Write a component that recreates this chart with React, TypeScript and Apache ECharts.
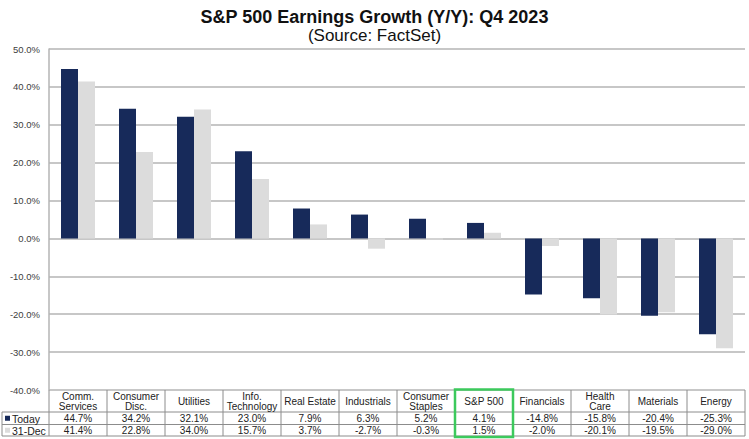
import React, { useEffect, useRef } from "react";
import * as echarts from "echarts";

const categories = [
  "Comm.\nServices",
  "Consumer\nDisc.",
  "Utilities",
  "Info.\nTechnology",
  "Real Estate",
  "Industrials",
  "Consumer\nStaples",
  "S&P 500",
  "Financials",
  "Health\nCare",
  "Materials",
  "Energy",
];
const todayValues = [44.7, 34.2, 32.1, 23.0, 7.9, 6.3, 5.2, 4.1, -14.8, -15.8, -20.4, -25.3];
const decValues = [41.4, 22.8, 34.0, 15.7, 3.7, -2.7, -0.3, 1.5, -2.0, -20.1, -19.5, -29.0];
const seriesNames = ["Today", "31-Dec"];
const highlightCategory = "S&P 500";
const yTicks = { min: -40, max: 50, interval: 10 };

const NAVY = "#172a5a";
const LIGHT = "#dcdcdc";
const GRID = "#b4b4b4";
const BORDER = "#8c8c8c";
const GREEN = "#3cc95c";

const fmt = (v: number) => v.toFixed(1) + "%";

export default function App() {
  const ref = useRef<HTMLDivElement>(null);
  useEffect(() => {
    if (!ref.current) return;
    const chart = echarts.init(ref.current, undefined, { renderer: "svg" });
    const gridLeft = 49;
    const gridRight = 4;
    const gridTop = 49;
    const gridBottom = 49;
    chart.setOption({
      animation: false,
      backgroundColor: "#ffffff",
      title: {
        text: "S&P 500 Earnings Growth (Y/Y): Q4 2023",
        subtext: "(Source: FactSet)",
        left: "center",
        top: 9,
        padding: 0,
        itemGap: 0,
        textStyle: {
          fontFamily: "Liberation Sans, Arial, sans-serif",
          fontSize: 18,
          lineHeight: 16,
          fontWeight: "bold",
          color: "#111111",
        },
        subtextStyle: {
          fontFamily: "Liberation Sans, Arial, sans-serif",
          fontSize: 17,
          lineHeight: 16,
          color: "#111111",
        },
      },
      grid: { left: gridLeft, right: gridRight, top: gridTop, bottom: gridBottom, containLabel: false },
      xAxis: {
        type: "category",
        data: categories,
        axisLabel: { show: false },
        axisTick: { show: false },
        axisLine: { show: false },
      },
      yAxis: {
        type: "value",
        min: yTicks.min,
        max: yTicks.max,
        interval: yTicks.interval,
        axisLine: { show: true, lineStyle: { color: GRID, width: 1.5 } },
        axisTick: { show: false },
        splitLine: { show: true, lineStyle: { color: GRID, width: 1.5 } },
        axisLabel: {
          formatter: (v: number) => fmt(v),
          fontFamily: "Liberation Sans, Arial, sans-serif",
          fontSize: 9.5,
          color: "#404040",
          margin: 9,
        },
      },
      series: [
        {
          name: seriesNames[0],
          type: "bar",
          data: todayValues,
          barWidth: 17,
          barGap: "0%",
          itemStyle: { color: NAVY },
        },
        {
          name: seriesNames[1],
          type: "bar",
          data: decValues,
          barWidth: 17,
          barGap: "0%",
          itemStyle: { color: LIGHT },
        },
      ],
    });

    // Build the data table below the plot from the axis scale
    const x0 = chart.convertToPixel({ xAxisIndex: 0 }, 0) as number;
    const x1 = chart.convertToPixel({ xAxisIndex: 0 }, 1) as number;
    const band = x1 - x0;
    const plotBottom = chart.convertToPixel({ yAxisIndex: 0 }, yTicks.min) as number;
    const headerBottom = plotBottom + 22;
    const row1Bottom = headerBottom + 12.5;
    const row2Bottom = row1Bottom + 11.5;
    const tableLeft = 2;
    const tableRight = x0 - band / 2 + band * categories.length;
    const font = "Liberation Sans, Arial, sans-serif";
    const elements: any[] = [];
    const hline = (xa: number, xb: number, y: number) =>
      elements.push({
        type: "line",
        silent: true,
        shape: { x1: xa, y1: y, x2: xb, y2: y },
        style: { stroke: BORDER, lineWidth: 1 },
      });
    const vline = (x: number, ya: number, yb: number) =>
      elements.push({
        type: "line",
        silent: true,
        shape: { x1: x, y1: ya, x2: x, y2: yb },
        style: { stroke: BORDER, lineWidth: 1 },
      });
    const tableStart = x0 - band / 2;
    hline(tableStart, tableRight, headerBottom);
    hline(tableLeft, tableRight, row1Bottom);
    hline(tableLeft, tableRight, row2Bottom);
    hline(tableLeft, tableStart, headerBottom);
    vline(tableLeft, headerBottom, row2Bottom);
    for (let i = 0; i <= categories.length; i++) {
      vline(tableStart + i * band, plotBottom, row2Bottom);
    }
    categories.forEach((c, i) => {
      const cx = chart.convertToPixel({ xAxisIndex: 0 }, i) as number;
      elements.push({
        type: "text",
        silent: true,
        x: cx,
        y: (plotBottom + headerBottom) / 2 + 0.5,
        style: {
          text: c,
          fontFamily: font,
          fontSize: 10,
          lineHeight: 10,
          fill: "#222222",
          align: "center",
          verticalAlign: "middle",
        },
      });
      elements.push({
        type: "text",
        silent: true,
        x: cx,
        y: (headerBottom + row1Bottom) / 2 + 0.5,
        style: {
          text: fmt(todayValues[i]),
          fontFamily: font,
          fontSize: 10,
          fill: "#222222",
          align: "center",
          verticalAlign: "middle",
        },
      });
      elements.push({
        type: "text",
        silent: true,
        x: cx,
        y: (row1Bottom + row2Bottom) / 2 + 0.5,
        style: {
          text: fmt(decValues[i]),
          fontFamily: font,
          fontSize: 10,
          fill: "#222222",
          align: "center",
          verticalAlign: "middle",
        },
      });
    });
    // legend keys in table
    const keyColors = [NAVY, LIGHT];
    const rowCenters = [(headerBottom + row1Bottom) / 2, (row1Bottom + row2Bottom) / 2];
    seriesNames.forEach((n, k) => {
      elements.push({
        type: "rect",
        silent: true,
        shape: { x: 5, y: rowCenters[k] - 2.5, width: 5, height: 5 },
        style: { fill: keyColors[k] },
      });
      elements.push({
        type: "text",
        silent: true,
        x: 12,
        y: rowCenters[k] + 0.5,
        style: {
          text: n,
          fontFamily: font,
          fontSize: 10.5,
          fill: "#222222",
          align: "left",
          verticalAlign: "middle",
        },
      });
    });
    const hi = categories.indexOf(highlightCategory);
    const hx = chart.convertToPixel({ xAxisIndex: 0 }, hi) as number;
    elements.push({
      type: "rect",
      silent: true,
      shape: { x: hx - band / 2, y: plotBottom - 0.5, width: band, height: row2Bottom - plotBottom + 1.5 },
      style: { fill: "none", stroke: GREEN, lineWidth: 2.5 },
    });
    chart.setOption({ graphic: { elements } });

    return () => chart.dispose();
  }, []);
  return (
    <div
      ref={ref}
      style={{ position: "fixed", left: 0, top: 0, width: 749, height: 439, background: "#fff" }}
    />
  );
}
